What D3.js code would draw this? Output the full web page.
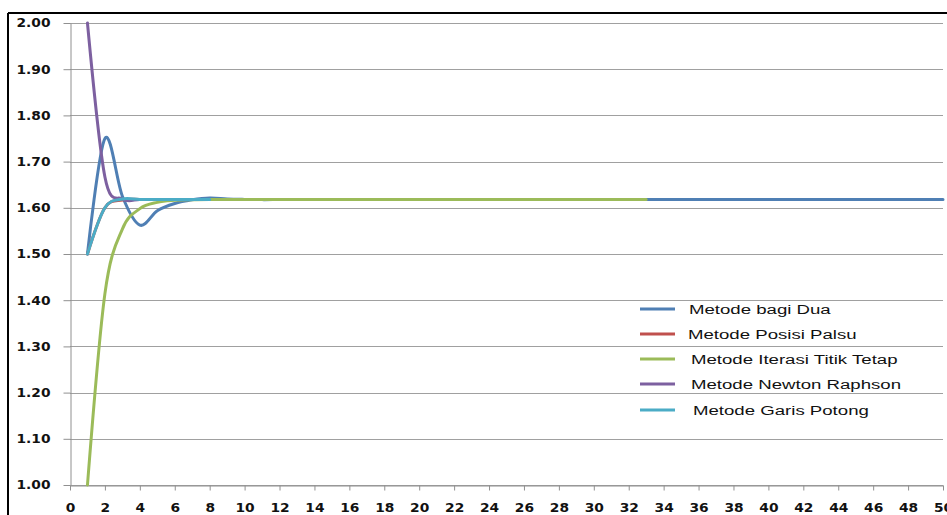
<!DOCTYPE html>
<html>
<head>
<meta charset="utf-8">
<script src="https://cdn.jsdelivr.net/npm/d3@7"></script>
<style>
  html, body { margin: 0; padding: 0; background: #fff; }
  svg { display: block; }
</style>
</head>
<body>
<svg id="chart" width="947" height="515"></svg>
<script>
// ---- data ----
const iterations = [1,2,3,4,5,6,7,8,9,10,11,12,13,14,15,16,17,18,19,20,21,22,23,24,25,
  26,27,28,29,30,31,32,33,34,35,36,37,38,39,40,41,42,43,44,45,46,47,48,49,50];

const seriesNames = ["Metode bagi Dua", "Metode Posisi Palsu", "Metode Iterasi Titik Tetap",
  "Metode Newton Raphson", "Metode Garis Potong"];

const bisection = [1.5000, 1.7500, 1.6250, 1.5625, 1.5938, 1.6094, 1.6172, 1.6211, 1.6191, 1.6182,
  1.6177, 1.6179, 1.6180, 1.6180, 1.6180, 1.6180, 1.6180, 1.6180, 1.6180, 1.6180,
  1.6180, 1.6180, 1.6180, 1.6180, 1.6180, 1.6180, 1.6180, 1.6180, 1.6180, 1.6180,
  1.6180, 1.6180, 1.6180, 1.6180, 1.6180, 1.6180, 1.6180, 1.6180, 1.6180, 1.6180,
  1.6180, 1.6180, 1.6180, 1.6180, 1.6180, 1.6180, 1.6180, 1.6180, 1.6180, 1.6180];
const falsePosition = [1.5000, 1.6000, 1.6170, 1.6180, 1.6180, 1.6180];
const fixedPoint = [1.0000, 1.4142, 1.5538, 1.5981, 1.6118, 1.6161, 1.6174, 1.6179, 1.6180, 1.6180,
  1.6180, 1.6180, 1.6180, 1.6180, 1.6180, 1.6180, 1.6180, 1.6180, 1.6180, 1.6180,
  1.6180, 1.6180, 1.6180, 1.6180, 1.6180, 1.6180, 1.6180, 1.6180, 1.6180, 1.6180,
  1.6180, 1.6180, 1.6180];
const newton = [2.0000, 1.6667, 1.6190, 1.6180, 1.6180];
const secant = [1.5000, 1.6000, 1.6190, 1.6180, 1.6180, 1.6180, 1.6180, 1.6180];

const xTicks = [0,2,4,6,8,10,12,14,16,18,20,22,24,26,28,30,32,34,36,38,40,42,44,46,48,50];
const yTicks = [1.0,1.1,1.2,1.3,1.4,1.5,1.6,1.7,1.8,1.9,2.0];

const allSeries = [bisection, falsePosition, fixedPoint, newton, secant];
const colors = ["#4f7fb4", "#c0504d", "#9bbb59", "#7d60a0", "#4bacc6"];

// ---- layout ----
const svg = d3.select("#chart");
const x = d3.scaleLinear().domain([0, 50]).range([70, 943]);
const y = d3.scaleLinear().domain([1, 2]).range([485, 23]);
const sx = 1.15; // horizontal text stretch

// outer frame (top and left)
svg.append("line").attr("x1", 8).attr("x2", 947).attr("y1", 13).attr("y2", 13)
  .attr("stroke", "#000").attr("stroke-width", 2);
svg.append("line").attr("x1", 8).attr("x2", 8).attr("y1", 13).attr("y2", 515)
  .attr("stroke", "#000").attr("stroke-width", 2);

// gridlines
svg.append("g").selectAll("line").data(yTicks).join("line")
  .attr("x1", 70).attr("x2", 943)
  .attr("y1", d => Math.round(y(d)) + 0.5).attr("y2", d => Math.round(y(d)) + 0.5)
  .attr("stroke", "#a0a0a0").attr("stroke-width", 1);

// y axis
const yAxis = svg.append("g").attr("transform", "translate(70.5,0)")
  .call(d3.axisLeft(y).tickValues(yTicks).tickFormat(d3.format(".2f")).tickSize(7).tickSizeOuter(0));
yAxis.select(".domain").attr("stroke", "#909090");
yAxis.selectAll(".tick line").attr("stroke", "#909090");
yAxis.selectAll(".tick text")
  .attr("x", -20 / sx).attr("dy", "0.32em")
  .attr("transform", `scale(${sx},1)`)
  .attr("fill", "#111")
  .style("font-family", "'DejaVu Sans', Verdana, sans-serif")
  .style("font-weight", "bold").style("font-size", "12px");

// x axis
const xAxis = svg.append("g").attr("transform", "translate(0,485.5)")
  .call(d3.axisBottom(x).tickValues(xTicks).tickFormat(d3.format("d")).tickSize(5).tickSizeOuter(0));
xAxis.select(".domain").attr("stroke", "#909090");
xAxis.selectAll(".tick line").attr("stroke", "#909090");
xAxis.selectAll(".tick text")
  .attr("y", 18).attr("dy", "0.71em")
  .attr("transform", `scale(${sx},1)`)
  .attr("fill", "#111")
  .style("font-family", "'DejaVu Sans', Verdana, sans-serif")
  .style("font-weight", "bold").style("font-size", "12px");

// lines
const line = d3.line()
  .x((d, i) => x(iterations[i]))
  .y(d => y(d))
  .curve(d3.curveCardinal.tension(0));

svg.append("g").selectAll("path").data(allSeries).join("path")
  .attr("d", d => line(d))
  .attr("fill", "none")
  .attr("stroke", (d, i) => colors[i])
  .attr("stroke-width", 3)
  .attr("stroke-linejoin", "round")
  .attr("stroke-linecap", "round");

// legend
const legendY = [309, 334, 359, 384, 410];
const legendTextX = [689, 688, 691, 691, 693];
const lg = svg.append("g");
seriesNames.forEach((name, i) => {
  lg.append("line").attr("x1", 640).attr("x2", 675)
    .attr("y1", legendY[i]).attr("y2", legendY[i])
    .attr("stroke", colors[i]).attr("stroke-width", 3);
  lg.append("text")
    .attr("x", legendTextX[i] / 1.38).attr("y", legendY[i])
    .attr("dy", "0.35em")
    .attr("transform", "scale(1.38,1)")
    .attr("fill", "#111")
    .style("font-family", "'Liberation Sans', Arial, sans-serif")
    .style("font-size", "13.5px")
    .text(name);
});
</script>
</body>
</html>
